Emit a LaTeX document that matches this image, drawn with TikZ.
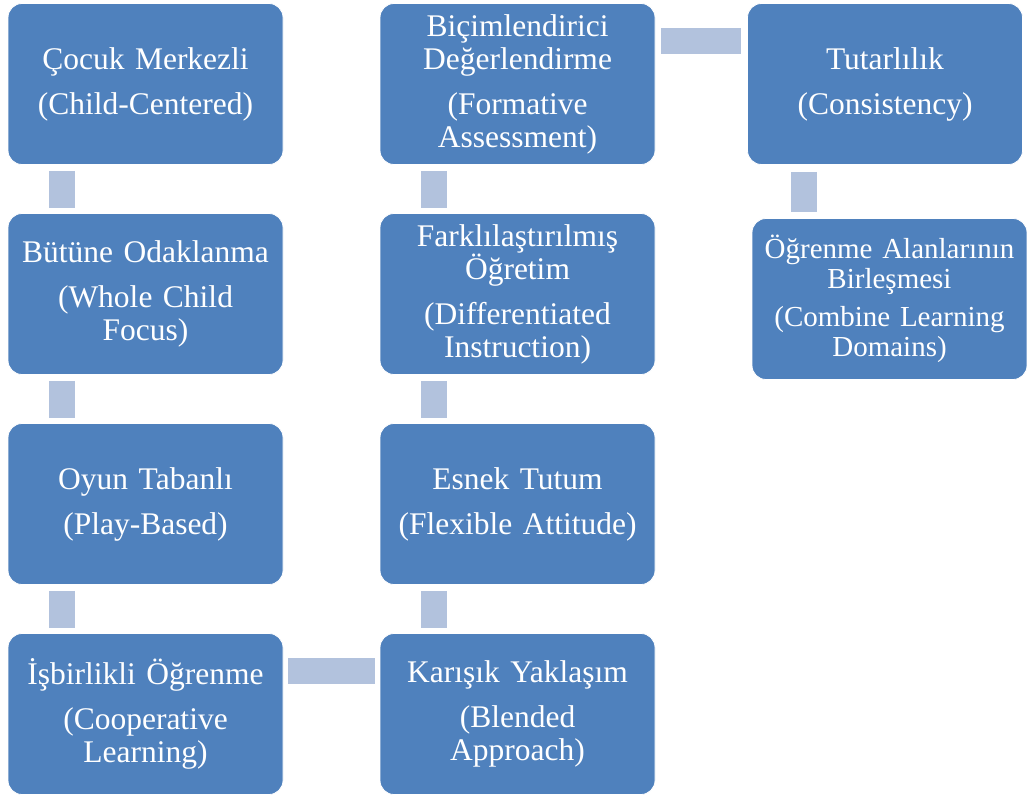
\documentclass[tikz,border=0pt]{standalone}
\usepackage{fontspec}
\setmainfont{Liberation Serif}
\definecolor{boxblue}{HTML}{4F81BD}
\definecolor{linkblue}{HTML}{B2C2DD}
\begin{document}
\begin{tikzpicture}[x=1pt,y=-1pt,
  box/.style={draw=white, line width=0.8pt, fill=boxblue, rounded corners=14pt,
    minimum width=275pt, minimum height=161pt, text width=272pt, align=center,
    inner sep=0pt, text=white, font=\fontsize{31.5}{33}\selectfont},
  smallbox/.style={box, font=\fontsize{29}{30}\selectfont},
  link/.style={draw=linkblue, line width=26pt, line cap=butt}]
  % Fix the page to the size of the reference
  \useasboundingbox (0,0) rectangle (1027,800);

  % Left column
  \node[box] (c1) at (145.5, 84)    {Çocuk Merkezli\\[12pt](Child-Centered)};
  \node[box] (c2) at (145.5, 294)   {Bütüne Odaklanma\\[12pt](Whole Child\\Focus)};
  \node[box] (c3) at (145.5, 504)   {Oyun Tabanlı\\[12pt](Play-Based)};
  \node[box] (c4) at (145.5, 714)   {İşbirlikli Öğrenme\\[12pt](Cooperative\\Learning)};

  % Middle column
  \node[box] (d1) at (517.5, 84)    {Biçimlendirici\\Değerlendirme\\[12pt](Formative\\Assessment)};
  \node[box] (d2) at (517.5, 294)   {Farklılaştırılmış\\Öğretim\\[12pt](Differentiated\\Instruction)};
  \node[box] (d3) at (517.5, 504)   {Esnek Tutum\\[12pt](Flexible Attitude)};
  \node[box] (d4) at (517.5, 714)   {Karışık Yaklaşım\\[12pt](Blended\\Approach)};

  % Right column
  \node[box] (e1) at (885, 84)      {Tutarlılık\\[12pt](Consistency)};
  \node[smallbox] (e2) at (889.5, 299) {Öğrenme Alanlarının\\Birleşmesi\\[8pt](Combine Learning\\Domains)};

  % Vertical links, left column
  \draw[link, shorten <=6pt, shorten >=5pt] ([xshift=54pt]c1.south west) -- ([xshift=54pt]c2.north west);
  \draw[link, shorten <=6pt, shorten >=5pt] ([xshift=54pt]c2.south west) -- ([xshift=54pt]c3.north west);
  \draw[link, shorten <=6pt, shorten >=5pt] ([xshift=54pt]c3.south west) -- ([xshift=54pt]c4.north west);

  % Bottom link, left to middle
  \draw[link, shorten <=5pt, shorten >=5pt] ([yshift=-38pt]c4.north east) -- ([yshift=-38pt]d4.north west);

  % Vertical links, middle column (bottom up)
  \draw[link, shorten <=6pt, shorten >=5pt] ([xshift=54pt]d3.south west) -- ([xshift=54pt]d4.north west);
  \draw[link, shorten <=6pt, shorten >=5pt] ([xshift=54pt]d2.south west) -- ([xshift=54pt]d3.north west);
  \draw[link, shorten <=6pt, shorten >=5pt] ([xshift=54pt]d1.south west) -- ([xshift=54pt]d2.north west);

  % Top link, middle to right
  \draw[link, shorten <=6pt, shorten >=6pt] ([yshift=-38pt]d1.north east) -- ([yshift=-38pt]e1.north west);

  % Vertical link, right column
  \draw[link, shorten <=7pt, shorten >=6pt] ([xshift=57pt]e1.south west) -- ([xshift=57pt]e1.south west |- e2.north);

\end{tikzpicture}
\end{document}
